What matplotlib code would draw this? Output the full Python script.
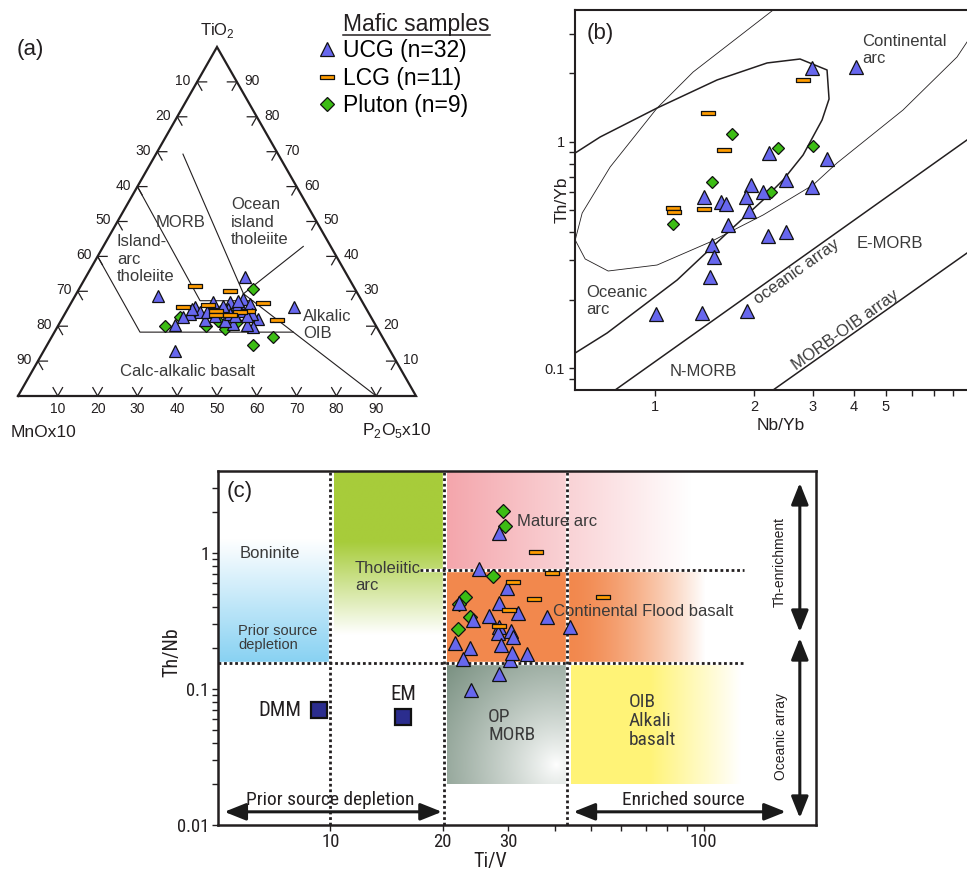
import numpy as np
import matplotlib
matplotlib.use("Agg")
import matplotlib.pyplot as plt
from matplotlib import font_manager as fm
from matplotlib.path import Path
from matplotlib.lines import Line2D
from matplotlib.ticker import FixedLocator, FixedFormatter, NullFormatter

plt.rcParams['font.family'] = ['Liberation Sans', 'DejaVu Sans']
INK = '#231f20'
LAB = '#3a3a3a'

# narrow font (fallback: regular font, slightly smaller)
_names = {f.name for f in fm.fontManager.ttflist}
NARROW, NSC = 'Liberation Sans', 0.84
for _cand, _sc in [('Liberation Sans Narrow', 1.0), ('Arial Narrow', 1.0), ('Roboto Condensed', 0.96),
                   ('Noto Sans Condensed', 0.93), ('Open Sans Condensed', 0.95),
                   ('DejaVu Sans Condensed', 0.88)]:
    if _cand in _names:
        NARROW, NSC = _cand, _sc
        break

# ===================== DATA =====================
# (a) ternary MnOx10 - TiO2 - P2O5x10 ; tuples (TiO2, MnOx10, P2O5x10), normalised %
ucg_a = [(34.2, 25.8, 39.9), (28.7, 50.5, 20.8), (25.5, 17.9, 56.6), (12.8, 54.2, 33.1),
         (20.3, 50.4, 29.3), (25.5, 42.8, 31.7), (21.8, 42.1, 36.1), (27.0, 37.5, 35.5),
         (27.0, 33.2, 39.8), (25.0, 34.8, 40.3), (27.9, 29.6, 42.6), (26.4, 28.5, 45.1),
         (22.1, 28.7, 49.3), (19.7, 31.1, 49.2), (20.3, 32.3, 47.4), (20.6, 35.7, 43.7),
         (21.5, 37.3, 41.3), (24.1, 42.2, 33.7), (24.1, 40.5, 35.4), (25.8, 32.1, 42.1),
         (23.5, 45.0, 31.5), (24.4, 37.1, 38.6), (24.4, 31.3, 44.3), (23.5, 35.0, 41.5),
         (22.9, 39.0, 38.0), (23.5, 29.5, 47.0), (22.9, 34.0, 43.1), (22.6, 47.2, 30.2),
         (25.0, 43.8, 31.2), (27.3, 31.1, 41.6), (25.8, 35.6, 38.6), (22.9, 31.0, 46.1)]
lcg_a = [(31.6, 39.7, 28.7), (30.2, 31.7, 38.2), (25.5, 45.8, 28.7), (26.1, 39.2, 34.7),
         (24.4, 38.1, 37.6), (23.2, 38.7, 38.1), (26.7, 25.1, 48.2), (24.4, 30.0, 45.6),
         (21.8, 24.0, 54.2), (24.1, 32.2, 43.7), (23.2, 35.1, 41.7)]
plu_a = [(30.8, 25.6, 43.7), (20.0, 53.1, 26.9), (14.5, 33.7, 51.8), (16.8, 27.5, 55.7),
         (20.0, 42.8, 37.2), (21.5, 39.0, 39.5), (21.2, 34.4, 44.4), (22.6, 48.0, 29.4),
         (19.1, 38.4, 42.4)]
tern_ticks = [10, 20, 30, 40, 50, 60, 70, 80, 90]
# field boundaries (TiO2, MnOx10, P2O5x10)
fields_a = [
    [(40, 60, 0), (18.3, 60.2, 21.5), (18.3, 21.7, 60.0)],
    [(60, 40, 0), (27.3, 40.6, 32.1), (27.3, 27.4, 45.3)],
    [(69.3, 23.9, 6.8), (29.3, 28.7, 42.0)],
    [(42.9, 6.9, 50.3), (29.3, 28.7, 42.0)],
    [(29.3, 28.7, 42.0), (0, 10, 90)],
]

# (b) Nb/Yb vs Th/Yb
ucg_b_nb = [2.985, 4.066, 2.215, 3.314, 2.489, 1.954, 1.408, 1.585, 1.638, 1.883, 2.120,
            2.985, 1.927, 1.668, 2.204, 2.494, 1.491, 1.512, 1.468, 1.007, 1.391, 1.896]
ucg_b_th = [2.108, 2.142, 0.889, 0.8365, 0.6777, 0.6422, 0.5721, 0.5437, 0.5312, 0.5721, 0.6020,
            0.6331, 0.4962, 0.4291, 0.3837, 0.3984, 0.3501, 0.3091, 0.2522, 0.1738, 0.1761, 0.1786]
lcg_b_nb = [2.815, 1.450, 1.622, 1.136, 1.144, 1.411]
lcg_b_th = [1.872, 1.335, 0.9192, 0.5084, 0.4912, 0.5049]
plu_b_nb = [1.708, 2.364, 3.006, 1.485, 2.242, 1.131]
plu_b_th = [1.078, 0.9352, 0.9573, 0.6622, 0.5981, 0.4321]
# reference fields
carc_nb = [2.494, 2.28, 1.304, 1.014, 0.7305, 0.601, 0.5724, 0.6136, 0.7204, 1.014, 1.468,
           2.125, 3.011, 3.56, 5.643, 8.226, 8.822, 10.0]
carc_th = [4.22, 3.81, 2.03, 1.408, 0.7733, 0.4846, 0.3684, 0.3039, 0.2689, 0.2858, 0.361,
           0.475, 0.6442, 0.8055, 1.38, 2.364, 2.754, 3.4]
oarc_nb = [0.5724, 0.6813, 1.014, 1.541, 2.185, 2.750, 3.320, 3.367, 3.207, 2.809, 2.443,
           2.125, 1.653, 1.166, 0.7154, 0.5724]
oarc_th = [0.8917, 1.049, 1.408, 1.872, 2.225, 2.316, 2.072, 1.543, 1.247, 0.8738, 0.6777,
           0.5533, 0.3957, 0.2454, 0.1433, 0.1169]
arr_up_nb = [0.7565, 10.0]
arr_up_th = [0.0803, 1.159]
arr_lo_nb = [2.279, 10.0]
arr_lo_th = [0.0803, 0.3673]

# (c) Ti/V vs Th/Nb
ucg_c_tiv = [28.38, 25.08, 29.64, 22.08, 28.38, 31.85, 26.57, 24.13, 37.94, 43.74, 28.26, 30.51,
             30.88, 28.09, 21.54, 23.63, 28.57, 22.62, 30.25, 33.54, 30.70, 28.38, 23.88]
ucg_c_thnb = [1.41, 0.763, 0.5556, 0.4267, 0.431, 0.3602, 0.344, 0.3216, 0.340, 0.287, 0.287, 0.2683,
              0.2424, 0.2594, 0.219, 0.2012, 0.2107, 0.1654, 0.1634, 0.18, 0.183, 0.1289, 0.0983]
lcg_c_tiv = [35.51, 39.13, 30.88, 35.17, 53.84, 30.06, 28.38]
lcg_c_thnb = [1.017, 0.7165, 0.6118, 0.4613, 0.4773, 0.3791, 0.2905]
plu_c_tiv = [29.0, 29.45, 27.27, 22.92, 22.17, 23.63, 21.94]
plu_c_thnb = [2.019, 1.588, 0.6776, 0.4773, 0.4217, 0.340, 0.2762]
dmm_tiv, dmm_thnb = [9.3], [0.070]
em_tiv, em_thnb = [15.7], [0.062]

# ===================== FIGURE =====================
W, H = 967, 875
fig = plt.figure(figsize=(W / 100, H / 100), dpi=100)


def fbox(x0, y0, x1, y1):
    return [x0 / W, 1 - y1 / H, (x1 - x0) / W, (y1 - y0) / H]


def ftext(px, py, s, **kw):
    kw.setdefault('color', INK)
    kw.setdefault('ha', 'center')
    kw.setdefault('va', 'center')
    return fig.text(px / W, 1 - py / H, s, **kw)


def ntext(px, py, s, size, **kw):
    return ftext(px, py, s, fontsize=size * NSC, family=NARROW, **kw)


rect_path = Path([(-1.25, -0.42), (1.25, -0.42), (1.25, 0.42), (-1.25, 0.42), (-1.25, -0.42)],
                 [Path.MOVETO, Path.LINETO, Path.LINETO, Path.LINETO, Path.CLOSEPOLY])
UCG = dict(marker='^', mfc='#6767ee', mec='#111111', mew=0.9, ls='none')
LCG = dict(marker=rect_path, mfc='#ff9c00', mec='#111111', mew=0.9, ls='none')
PLU = dict(marker='D', mfc='#3cbd14', mec='#111111', mew=0.9, ls='none')

# ---------- (a) ternary ----------
axa = fig.add_axes(fbox(0, 0, 480, 440))
axa.set_xlim(-18 / 398, 462 / 398)
axa.set_ylim(-44 / 403, 396 / 403)
axa.axis('off')
SQ = np.sqrt(3) / 2
PX, PY = 1 / 398, 1 / 403


def tern_xy(comps):
    c = np.asarray(comps, float)
    s = c.sum(axis=1)
    t = c[:, 0] / s
    p = c[:, 2] / s
    return p + t / 2, t * SQ


axa.plot([0, 1, 0.5, 0], [0, 0, SQ, 0], color=INK, lw=1.6, solid_joinstyle='miter', clip_on=False)
for seg in fields_a:
    x, y = tern_xy(seg)
    axa.plot(x, y, color=INK, lw=0.8)
k = 0.024
tkw = dict(color=INK, lw=0.9)
for v in tern_ticks:
    f = v / 100
    axa.plot([f + 0.5 * k, f, f - 0.5 * k], [k * SQ, 0, k * SQ], **tkw)
    axa.text(f, -13 * PY, str(v), ha='center', va='center', fontsize=10, color=INK)
    t = 1 - f
    x0, y0 = t / 2, t * SQ
    axa.plot([x0 + k, x0, x0 + 0.5 * k], [y0, y0, y0 - k * SQ], **tkw)
    axa.text(x0 - 14 * PX, y0 + 1 * PY, str(v), ha='center', va='center', fontsize=10, color=INK)
    x0, y0 = 1 - f / 2, f * SQ
    axa.plot([x0 - k, x0, x0 - 0.5 * k], [y0, y0, y0 - k * SQ], **tkw)
    axa.text(x0 + 15 * PX, y0 + 1 * PY, str(v), ha='center', va='center', fontsize=10, color=INK)

for comps, st, ms in [(plu_a, PLU, 6.2), (ucg_a, UCG, 9), (lcg_a, LCG, 9.5)]:
    x, y = tern_xy(comps)
    axa.plot(x, y, ms=ms, **st)

ftext(17, 50, '(a)', fontsize=16, ha='left')
ftext(217, 31, 'TiO$_\\mathregular{2}$', fontsize=12)
ftext(43, 432, 'MnOx10', fontsize=12.5)
ftext(397, 430, 'P$_\\mathregular{2}$O$_\\mathregular{5}$x10', fontsize=12.5)
ftext(181, 222, 'MORB', fontsize=12, color=LAB)
ftext(231, 222, 'Ocean\nisland\ntholeiite', fontsize=12, color=LAB, ha='left', linespacing=1.18)
ftext(117, 259, 'Island-\narc\ntholeiite', fontsize=12, color=LAB, ha='left', linespacing=1.18)
ftext(303, 325, 'Alkalic\nOIB', fontsize=12, color=LAB, ha='left', linespacing=1.18)
ftext(187, 372, 'Calc-alkalic basalt', fontsize=12, color=LAB)

# legend
handles = [Line2D([], [], ms=10, **UCG), Line2D([], [], ms=10, **LCG), Line2D([], [], ms=7.1, **PLU)]
labels = ['UCG (n=32)', 'LCG (n=11)', 'Pluton (n=9)']
axa.legend(handles, labels, loc='upper left', bbox_to_anchor=(318 / W, 1 - 39 / H),
           bbox_transform=fig.transFigure, frameon=False, fontsize=16.5, handlelength=0.78,
           handletextpad=0.32, labelspacing=0.2, borderpad=0, borderaxespad=0)
ftext(343, 25, 'Mafic samples', fontsize=16.5, ha='left')
fig.add_artist(Line2D([343 / W, 490 / W], [1 - 35 / H, 1 - 35 / H], color=INK, lw=1.1))

# ---------- (b) ----------
axb = fig.add_axes(fbox(574.6, 10, 985, 390))
axb.set_xscale('log')
axb.set_yscale('log')
axb.plot(carc_nb, carc_th, color=INK, lw=0.6)
axb.plot(oarc_nb, oarc_th, color=INK, lw=1.1)
axb.plot(arr_up_nb, arr_up_th, color=INK, lw=1.1)
axb.plot(arr_lo_nb, arr_lo_th, color=INK, lw=1.1)
axb.plot(plu_b_nb, plu_b_th, ms=6.2, **PLU)
axb.plot(ucg_b_nb, ucg_b_th, ms=9.5, **UCG)
axb.plot(lcg_b_nb, lcg_b_th, ms=9.5, **LCG)
axb.set_xlim(0.57, 10)
axb.set_ylim(0.0803, 3.81)
axb.xaxis.set_major_locator(FixedLocator([1, 2, 3, 4, 5]))
axb.xaxis.set_major_formatter(FixedFormatter(['1', '2', '3', '4', '5']))
axb.xaxis.set_minor_locator(FixedLocator([6, 7, 8, 9]))
axb.xaxis.set_minor_formatter(NullFormatter())
axb.yaxis.set_major_locator(FixedLocator([0.1, 1]))
axb.yaxis.set_major_formatter(FixedFormatter(['0.1', '1']))
axb.yaxis.set_minor_locator(FixedLocator([0.09, 0.2, 0.3, 0.4, 0.5, 0.6, 0.7, 0.8, 0.9, 2, 3]))
axb.yaxis.set_minor_formatter(NullFormatter())
axb.tick_params(which='both', direction='out', length=4, width=1.0, color=INK, labelsize=10.5,
                labelcolor=INK, pad=3)
for sp in axb.spines.values():
    sp.set_linewidth(1.5)
    sp.set_color(INK)
ftext(562, 200, 'Th/Yb', rotation=90, fontsize=12.5)
ftext(781, 425, 'Nb/Yb', fontsize=12.5)
ftext(587, 33, '(b)', fontsize=16, ha='left')
ftext(862, 50, 'Continental\narc', fontsize=12, color=LAB, ha='left', linespacing=1.18)
ftext(857, 243, 'E-MORB', fontsize=12, color=LAB, ha='left')
ftext(586, 301, 'Oceanic\narc', fontsize=12, color=LAB, ha='left', linespacing=1.18)
ftext(670, 372, 'N-MORB', fontsize=12, color=LAB, ha='left')
ftext(797, 272, 'oceanic array', fontsize=12, color=LAB, rotation=35.4)
ftext(845, 330, 'MORB-OIB array', fontsize=12, color=LAB, rotation=35.4)

# ---------- (c) ----------
rect_c = fbox(218, 471, 816, 825)
axbg = fig.add_axes(rect_c)
axc = fig.add_axes(rect_c)
axc.patch.set_visible(False)

N = 256
L = np.log10
WHITE = np.array([1.0, 1.0, 1.0])


def grad(x0, x1, y0, y1, fn):
    u = np.linspace(0, 1, N)[None, :, None]
    v = np.linspace(0, 1, N)[:, None, None]
    lx = L(x0) + u * (L(x1) - L(x0))
    ly = L(y0) + v * (L(y1) - L(y0))
    rgb = np.clip(fn(lx, ly), 0, 1)
    axbg.imshow(rgb, extent=[L(x0), L(x1), L(y0), L(y1)], origin='lower', aspect='auto',
                interpolation='bilinear', zorder=0)


def mix(c, t):
    t = np.clip(t, 0, 1)
    return np.asarray(c)[None, None, :] * (1 - t) + WHITE[None, None, :] * t


blue = [0.53, 0.82, 0.95]
green = [0.655, 0.80, 0.23]
pink = [0.957, 0.651, 0.675]
orange = [0.95, 0.535, 0.305]
gray = [0.47, 0.56, 0.50]
yellow = [1.0, 0.955, 0.47]
grad(5, 10, 0.155, 1.25, lambda lx, ly: mix(blue, (ly - L(0.155)) / (L(1.25) - L(0.155)) + 0 * lx))
grad(10.2, 19.9, 0.2, 3.87, lambda lx, ly: mix(green, (L(1.2) - ly) / (L(1.2) - L(0.25)) + 0 * lx))
grad(20.5, 92, 0.75, 3.9, lambda lx, ly: mix(pink, (lx - L(20.5)) / (L(92) - L(20.5)) + 0 * ly))
grad(20.5, 101, 0.158, 0.75,
     lambda lx, ly: mix(orange, np.clip((lx - L(44)) / (L(101) - L(44)), 0, 1) ** 1.5 + 0 * ly))


def opmorb(lx, ly):
    dx = (lx - 1.6032) * 373
    dy = (ly + 1.559) * 136
    d = np.sqrt(dx ** 2 + dy ** 2) / 150
    return mix(gray, 1 - np.clip(d, 0, 1) ** 0.85)


grad(20.5, 43, 0.02, 0.153, opmorb)
grad(44.2, 126, 0.02, 0.153, lambda lx, ly: mix(yellow, np.clip((lx - L(72)) / (L(126) - L(72)), 0, 1) + 0 * ly))
axbg.set_xlim(L(5), L(200))
axbg.set_ylim(-2, L(4))
axbg.axis('off')

axc.set_xscale('log')
axc.set_yscale('log')


def dotted(xs, ys):
    axc.plot(xs, ys, color='white', lw=2.4, zorder=2, solid_capstyle='butt')
    axc.plot(xs, ys, color=INK, lw=2.0, ls=(0, (1, 1)), zorder=2.1, dash_capstyle='butt')


dotted([10, 10], [0.01, 4])
dotted([20.1, 20.1], [0.01, 4])
dotted([43, 43], [0.01, 4])
dotted([5, 128], [0.155, 0.155])
dotted([17.4, 128], [0.75, 0.75])

axc.plot(plu_c_tiv, plu_c_thnb, ms=6.8, zorder=4, **PLU)
axc.plot(ucg_c_tiv, ucg_c_thnb, ms=10, zorder=4, **UCG)
axc.plot(lcg_c_tiv, lcg_c_thnb, ms=10, zorder=4, **LCG)
axc.plot(dmm_tiv, dmm_thnb, marker='s', ms=11.5, mfc='#2b2d8e', mec='#111111', mew=1.6, ls='none', zorder=4)
axc.plot(em_tiv, em_thnb, marker='s', ms=11.5, mfc='#2b2d8e', mec='#111111', mew=1.6, ls='none', zorder=4)

akw = dict(arrowstyle='<|-|>,head_length=0.65,head_width=0.26', mutation_scale=20, lw=2.2,
           color='#1a1a1a', shrinkA=0, shrinkB=0)
axc.annotate('', xy=(19.9, 0.0125), xytext=(5.2, 0.0125), arrowprops=akw, zorder=5)
axc.annotate('', xy=(166, 0.0125), xytext=(44.8, 0.0125), arrowprops=akw, zorder=5)
axc.annotate('', xy=(181, 3.27), xytext=(181, 0.262), arrowprops=akw, zorder=5)
axc.annotate('', xy=(181, 0.237), xytext=(181, 0.01125), arrowprops=akw, zorder=5)

axc.set_xlim(5, 200)
axc.set_ylim(0.01, 4)
axc.xaxis.set_major_locator(FixedLocator([10, 20, 30, 100]))
axc.xaxis.set_major_formatter(FixedFormatter(['10', '20', '30', '100']))
axc.xaxis.set_minor_locator(FixedLocator([40, 50, 60, 70, 80, 90]))
axc.xaxis.set_minor_formatter(NullFormatter())
axc.yaxis.set_major_locator(FixedLocator([0.01, 0.1, 1]))
axc.yaxis.set_major_formatter(FixedFormatter(['0.01', '0.1', '1']))
axc.yaxis.set_minor_locator(FixedLocator([0.02, 0.03, 0.04, 0.05, 0.06, 0.07, 0.08, 0.09,
                                          0.2, 0.3, 0.4, 0.5, 0.6, 0.7, 0.8, 0.9, 2, 3]))
axc.yaxis.set_minor_formatter(NullFormatter())
axc.tick_params(which='both', direction='out', length=4, width=1.0, color=INK, labelsize=14 * NSC,
                labelcolor=INK, pad=2)
for lab in axc.get_xticklabels() + axc.get_yticklabels():
    lab.set_family(NARROW)
for sp in axc.spines.values():
    sp.set_linewidth(1.8)
    sp.set_color(INK)

ntext(172, 652, 'Th/Nb', 15, rotation=90)
ntext(490, 862, 'Ti/V', 15)
ftext(227, 492, '(c)', fontsize=16, ha='left')
ftext(240, 554, 'Boninite', fontsize=12, color=LAB, ha='left')
ftext(238, 638, 'Prior source\ndepletion', fontsize=10.5, color=LAB, ha='left', linespacing=1.05)
ftext(355, 577, 'Tholeiitic\narc', fontsize=12, color=LAB, ha='left', linespacing=1.18)
ftext(517, 522, 'Mature arc', fontsize=12, color=LAB, ha='left')
ftext(553, 612, 'Continental Flood basalt', fontsize=12, color=LAB, ha='left')
ntext(488, 726, 'OP\nMORB', 14.5, color=LAB, ha='left', linespacing=1.05)
ntext(629, 721, 'OIB\nAlkali\nbasalt', 14.5, color=LAB, ha='left', linespacing=1.05)
ntext(301, 711, 'DMM', 15.5, ha='right')
ntext(403, 695, 'EM', 15.5)
ntext(330, 800, 'Prior source depletion', 14.5)
ntext(683, 800, 'Enriched source', 14.5)
ftext(780, 562, 'Th-enrichment', fontsize=10, rotation=90)
ftext(781, 737, 'Oceanic array', fontsize=10, rotation=90)

fig.savefig('out.png', dpi=100)
